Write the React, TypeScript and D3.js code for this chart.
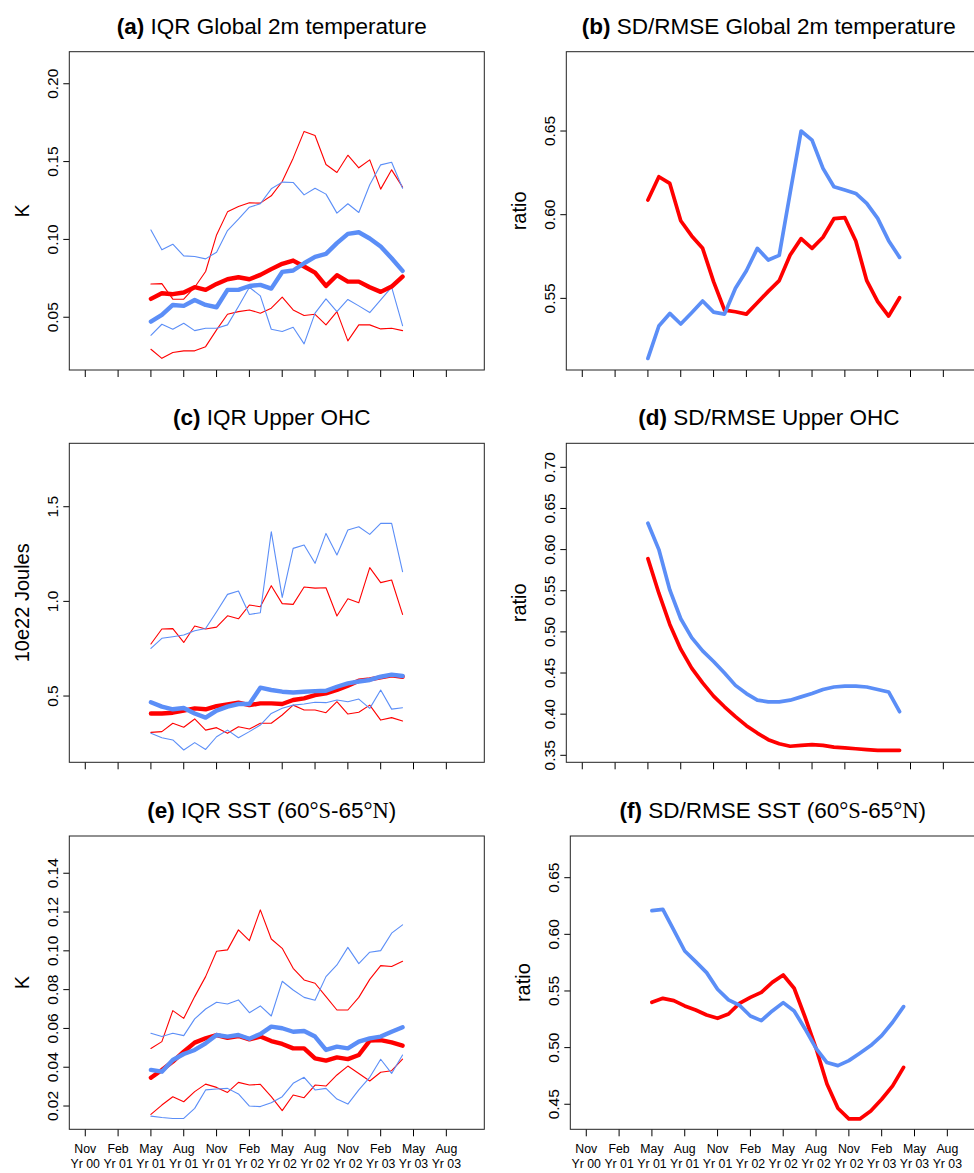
import React from 'react';
import * as d3 from 'd3';

const RED = '#ff0000';
const BLUE = '#5b8ef7';
const FONT = "'Liberation Sans', Arial, Helvetica, sans-serif";
const SERIF = "'Liberation Serif', 'Times New Roman', serif";

// months counted from Nov Yr 00 (= 0); data run May Yr 01 .. Apr Yr 03
const months = d3.range(6, 30);
const tickPos = d3.range(0, 36, 3);
const tickMon = ['Nov', 'Feb', 'May', 'Aug', 'Nov', 'Feb', 'May', 'Aug', 'Nov', 'Feb', 'May', 'Aug'];
const tickYr = ['Yr 00', 'Yr 01', 'Yr 01', 'Yr 01', 'Yr 01', 'Yr 02', 'Yr 02', 'Yr 02', 'Yr 02', 'Yr 03', 'Yr 03', 'Yr 03'];

// (a) IQR global 2m temperature
const aRedHi = [0.0714, 0.0716, 0.0616, 0.0616, 0.0693, 0.0794, 0.1029, 0.1177, 0.1211, 0.1235, 0.1233, 0.128, 0.1372, 0.1522, 0.1694, 0.1668, 0.1481, 0.143, 0.1541, 0.146, 0.1511, 0.1323, 0.1447, 0.1336];
const aBlueHi = [0.1061, 0.0933, 0.0969, 0.0894, 0.089, 0.0875, 0.0918, 0.1057, 0.113, 0.1207, 0.1229, 0.1325, 0.1368, 0.1366, 0.1286, 0.1329, 0.1291, 0.1169, 0.1229, 0.1173, 0.1351, 0.1479, 0.1496, 0.1329];
const aRedMid = [0.0618, 0.0654, 0.0648, 0.0659, 0.0693, 0.0676, 0.0714, 0.0744, 0.0757, 0.0744, 0.0772, 0.0809, 0.0843, 0.0864, 0.0826, 0.0787, 0.0701, 0.077, 0.0729, 0.0729, 0.0693, 0.0663, 0.0697, 0.0761];
const aBlueMid = [0.0472, 0.0515, 0.0579, 0.0573, 0.0611, 0.0579, 0.0564, 0.0676, 0.0676, 0.0701, 0.0708, 0.0684, 0.0791, 0.08, 0.0847, 0.0888, 0.0907, 0.0976, 0.1036, 0.1046, 0.1006, 0.0954, 0.0879, 0.0798];
const aRedLo = [0.0294, 0.0236, 0.0273, 0.0284, 0.0284, 0.0311, 0.0419, 0.0519, 0.0536, 0.0547, 0.0526, 0.0558, 0.0629, 0.0547, 0.0511, 0.0519, 0.0451, 0.0536, 0.0348, 0.0451, 0.0451, 0.0425, 0.0429, 0.0414];
const aBlueLo = [0.0384, 0.0455, 0.0423, 0.0461, 0.0414, 0.0429, 0.0429, 0.0451, 0.0569, 0.0693, 0.0637, 0.0423, 0.0408, 0.0436, 0.0329, 0.0526, 0.0618, 0.0536, 0.0614, 0.0573, 0.053, 0.0611, 0.0693, 0.0446];

// (b) SD/RMSE global 2m temperature
const bRed = [0.6088, 0.6227, 0.6187, 0.5964, 0.5873, 0.5799, 0.56, 0.543, 0.542, 0.5406, 0.5474, 0.5542, 0.5606, 0.5759, 0.5857, 0.5799, 0.5865, 0.5976, 0.5982, 0.5843, 0.5606, 0.548, 0.5394, 0.5504];
const bBlue = [0.5141, 0.5335, 0.541, 0.5347, 0.5414, 0.5484, 0.5418, 0.5406, 0.556, 0.5665, 0.5799, 0.5729, 0.5757, 0.6131, 0.65, 0.6446, 0.6277, 0.6167, 0.6147, 0.6127, 0.6068, 0.5978, 0.5845, 0.5745];

// (c) IQR upper OHC
const cBlueHi = [0.752, 0.805, 0.813, 0.822, 0.845, 0.857, 0.945, 1.037, 1.055, 0.931, 0.94, 1.368, 1.021, 1.28, 1.298, 1.201, 1.359, 1.245, 1.377, 1.394, 1.354, 1.412, 1.412, 1.157];
const cRedHi = [0.775, 0.854, 0.856, 0.783, 0.87, 0.854, 0.864, 0.924, 0.908, 0.981, 0.972, 1.083, 0.988, 0.984, 1.076, 1.07, 1.072, 0.923, 1.014, 0.993, 1.178, 1.099, 1.113, 0.931];
const cRedMid = [0.408, 0.408, 0.412, 0.423, 0.435, 0.43, 0.447, 0.456, 0.465, 0.452, 0.461, 0.461, 0.458, 0.479, 0.488, 0.505, 0.514, 0.532, 0.555, 0.581, 0.588, 0.599, 0.609, 0.602];
const cBlueMid = [0.467, 0.444, 0.43, 0.437, 0.408, 0.386, 0.423, 0.444, 0.458, 0.458, 0.544, 0.532, 0.523, 0.519, 0.523, 0.526, 0.528, 0.549, 0.567, 0.577, 0.585, 0.602, 0.613, 0.606];
const cRedLo = [0.308, 0.312, 0.356, 0.335, 0.379, 0.32, 0.333, 0.303, 0.338, 0.326, 0.356, 0.356, 0.4, 0.452, 0.426, 0.426, 0.412, 0.47, 0.405, 0.414, 0.452, 0.373, 0.386, 0.368];
const cBlueLo = [0.303, 0.28, 0.268, 0.215, 0.254, 0.218, 0.285, 0.32, 0.28, 0.312, 0.347, 0.408, 0.435, 0.452, 0.458, 0.467, 0.465, 0.479, 0.47, 0.484, 0.435, 0.532, 0.431, 0.438];

// (d) SD/RMSE upper OHC
const dBlue = [0.632, 0.6, 0.551, 0.516, 0.493, 0.477, 0.464, 0.45, 0.435, 0.425, 0.417, 0.415, 0.415, 0.417, 0.421, 0.425, 0.43, 0.433, 0.434, 0.434, 0.433, 0.43, 0.427, 0.403];
const dRed = [0.589, 0.547, 0.509, 0.479, 0.456, 0.438, 0.422, 0.409, 0.397, 0.386, 0.377, 0.369, 0.364, 0.361, 0.362, 0.363, 0.362, 0.36, 0.359, 0.358, 0.357, 0.356, 0.356, 0.356];

// (e) IQR SST
const eRedHi = [0.0497, 0.0532, 0.0692, 0.0652, 0.0764, 0.0867, 0.0998, 0.1005, 0.1108, 0.1053, 0.1211, 0.1061, 0.1013, 0.091, 0.085, 0.0833, 0.0764, 0.0695, 0.0695, 0.076, 0.0853, 0.0924, 0.0919, 0.0946];
const eBlueHi = [0.0575, 0.0558, 0.0575, 0.0563, 0.0649, 0.07, 0.0735, 0.0726, 0.0747, 0.0681, 0.0716, 0.0664, 0.0843, 0.0798, 0.076, 0.0745, 0.0867, 0.0927, 0.1018, 0.0934, 0.0993, 0.1001, 0.1091, 0.1134];
const eRedMid = [0.0346, 0.0386, 0.0429, 0.048, 0.0527, 0.0549, 0.0566, 0.0552, 0.0561, 0.0544, 0.0558, 0.0535, 0.052, 0.0497, 0.0497, 0.0446, 0.0434, 0.0451, 0.0442, 0.0463, 0.0537, 0.054, 0.0528, 0.0511];
const eBlueMid = [0.0386, 0.0377, 0.0437, 0.0468, 0.0489, 0.0523, 0.0566, 0.0558, 0.0566, 0.0547, 0.0571, 0.0609, 0.0601, 0.0583, 0.0587, 0.0558, 0.0489, 0.0506, 0.0497, 0.0532, 0.0549, 0.0558, 0.0583, 0.0606];
const eRedLo = [0.0157, 0.0205, 0.0248, 0.0222, 0.0274, 0.0313, 0.0296, 0.027, 0.0322, 0.0308, 0.0312, 0.0248, 0.0176, 0.0257, 0.0243, 0.0308, 0.0303, 0.036, 0.0406, 0.0368, 0.0329, 0.0374, 0.0382, 0.0442];
const eBlueLo = [0.0148, 0.0141, 0.0136, 0.0136, 0.0188, 0.0283, 0.0288, 0.0291, 0.0262, 0.02, 0.0197, 0.0217, 0.0248, 0.0317, 0.0348, 0.0283, 0.0291, 0.0236, 0.021, 0.0283, 0.0348, 0.0441, 0.0368, 0.0463];

// (f) SD/RMSE SST
const fBlue = [0.6209, 0.6221, 0.6038, 0.5853, 0.5759, 0.5662, 0.5515, 0.5421, 0.5374, 0.5279, 0.5238, 0.5324, 0.5397, 0.5324, 0.5165, 0.4994, 0.4868, 0.4841, 0.4885, 0.495, 0.5018, 0.5106, 0.5224, 0.5362];
const fRed = [0.54, 0.5435, 0.5415, 0.5368, 0.5332, 0.5288, 0.5259, 0.5297, 0.5391, 0.5444, 0.5488, 0.5576, 0.5641, 0.5524, 0.5268, 0.4994, 0.4679, 0.4465, 0.4371, 0.4371, 0.4441, 0.4544, 0.4662, 0.4826];

type Part = { t: string; bold?: boolean; serif?: boolean };
type Series = { values: number[]; color: string; width: number };

const PW = 415;

function Panel(props: {
  left: number; top: number; bottom: number;
  yDomain: [number, number]; yTicks: number[]; fmt: string;
  title: Part[]; ylab: string; series: Series[]; xLabels?: boolean;
}) {
  const { left, top, bottom, yDomain, yTicks, fmt, title, ylab, series, xLabels } = props;
  const x = d3.scaleLinear().domain([-1.46, 36.47]).range([left, left + PW]);
  const y = d3.scaleLinear().domain(yDomain).range([bottom, top]);
  const f = d3.format(fmt);
  const line = d3.line<number>().x((_, i) => x(months[i])).y(d => y(d));
  const midY = (top + bottom) / 2;
  return (
    <g>
      <text x={left + PW / 2 - 5} y={top - 18} textAnchor="middle" fontSize={22.5} fontFamily={FONT}>
        {title.map((p, i) => (
          <tspan key={i} fontWeight={p.bold ? 'bold' : 'normal'} fontFamily={p.serif ? SERIF : FONT}>{p.t}</tspan>
        ))}
      </text>
      <text transform={`translate(${left - 40},${midY}) rotate(-90)`} textAnchor="middle" fontSize={20} fontFamily={FONT}>{ylab}</text>
      {yTicks.map(t => (
        <g key={t}>
          <line x1={left - 6} x2={left} y1={y(t)} y2={y(t)} stroke="#000" strokeWidth={1} />
          <text transform={`translate(${left - 11},${y(t)}) rotate(-90)`} textAnchor="middle" fontSize={15.5} fontFamily={FONT}>{f(t)}</text>
        </g>
      ))}
      {tickPos.map((m, i) => (
        <g key={m}>
          <line x1={x(m)} x2={x(m)} y1={bottom} y2={bottom + 7} stroke="#000" strokeWidth={1} />
          {xLabels && (
            <>
              <text x={x(m)} y={bottom + 24} textAnchor="middle" fontSize={12.3} fontFamily={FONT}>{tickMon[i]}</text>
              <text x={x(m)} y={bottom + 39} textAnchor="middle" fontSize={12.3} fontFamily={FONT}>{tickYr[i]}</text>
            </>
          )}
        </g>
      ))}
      {series.map((s, i) => (
        <path key={i} d={line(s.values) || ''} fill="none" stroke={s.color} strokeWidth={s.width}
          strokeLinejoin="round" strokeLinecap="round" />
      ))}
      <rect x={left} y={top} width={PW} height={bottom - top} fill="none" stroke="#222" strokeWidth={1} />
    </g>
  );
}

const thin = 1.1;
const thick = 4.4;
const mid = 3.7;

const sst = (lab: string, rest: string): Part[] => [
  { t: lab, bold: true }, { t: rest + ' (60' }, { t: '°S', serif: true }, { t: '-65' }, { t: '°N', serif: true }, { t: ')' },
];

export default function App() {
  return (
    <svg width={974} height={1173} style={{ position: 'absolute', left: 0, top: 0, background: '#fff' }}>
      <rect width={974} height={1173} fill="#fff" />
      <Panel left={69.3} top={51.7} bottom={370} yDomain={[0.0161, 0.2206]} yTicks={[0.05, 0.1, 0.15, 0.2]} fmt=".2f"
        title={[{ t: '(a)', bold: true }, { t: ' IQR Global 2m temperature' }]} ylab="K"
        series={[
          { values: aRedHi, color: RED, width: thin }, { values: aRedLo, color: RED, width: thin },
          { values: aBlueHi, color: BLUE, width: thin }, { values: aBlueLo, color: BLUE, width: thin },
          { values: aRedMid, color: RED, width: thick }, { values: aBlueMid, color: BLUE, width: thick },
        ]} />
      <Panel left={566.3} top={51.7} bottom={370} yDomain={[0.5072, 0.6974]} yTicks={[0.55, 0.6, 0.65]} fmt=".2f"
        title={[{ t: '(b)', bold: true }, { t: ' SD/RMSE Global 2m temperature' }]} ylab="ratio"
        series={[{ values: bRed, color: RED, width: mid }, { values: bBlue, color: BLUE, width: mid }]} />
      <Panel left={69.3} top={443.3} bottom={762.3} yDomain={[0.15, 1.835]} yTicks={[0.5, 1.0, 1.5]} fmt=".1f"
        title={[{ t: '(c)', bold: true }, { t: ' IQR Upper OHC' }]} ylab="10e22 Joules"
        series={[
          { values: cRedHi, color: RED, width: thin }, { values: cRedLo, color: RED, width: thin },
          { values: cBlueHi, color: BLUE, width: thin }, { values: cBlueLo, color: BLUE, width: thin },
          { values: cRedMid, color: RED, width: thick }, { values: cBlueMid, color: BLUE, width: thick },
        ]} />
      <Panel left={566.3} top={443.3} bottom={762.3} yDomain={[0.3415, 0.7292]} yTicks={d3.range(0.35, 0.7001, 0.05)} fmt=".2f"
        title={[{ t: '(d)', bold: true }, { t: ' SD/RMSE Upper OHC' }]} ylab="ratio"
        series={[{ values: dRed, color: RED, width: mid }, { values: dBlue, color: BLUE, width: mid }]} />
      <Panel left={69.3} top={836} bottom={1129.3} yDomain={[0.008, 0.1592]} yTicks={d3.range(0.02, 0.1401, 0.02)} fmt=".2f"
        title={sst('(e)', ' IQR SST')} ylab="K" xLabels
        series={[
          { values: eRedHi, color: RED, width: thin }, { values: eRedLo, color: RED, width: thin },
          { values: eBlueHi, color: BLUE, width: thin }, { values: eBlueLo, color: BLUE, width: thin },
          { values: eRedMid, color: RED, width: thick }, { values: eBlueMid, color: BLUE, width: thick },
        ]} />
      <Panel left={570.3} top={836} bottom={1129.3} yDomain={[0.4279, 0.6868]} yTicks={[0.45, 0.5, 0.55, 0.6, 0.65]} fmt=".2f"
        title={sst('(f)', ' SD/RMSE SST')} ylab="ratio" xLabels
        series={[{ values: fRed, color: RED, width: mid }, { values: fBlue, color: BLUE, width: mid }]} />
    </svg>
  );
}
